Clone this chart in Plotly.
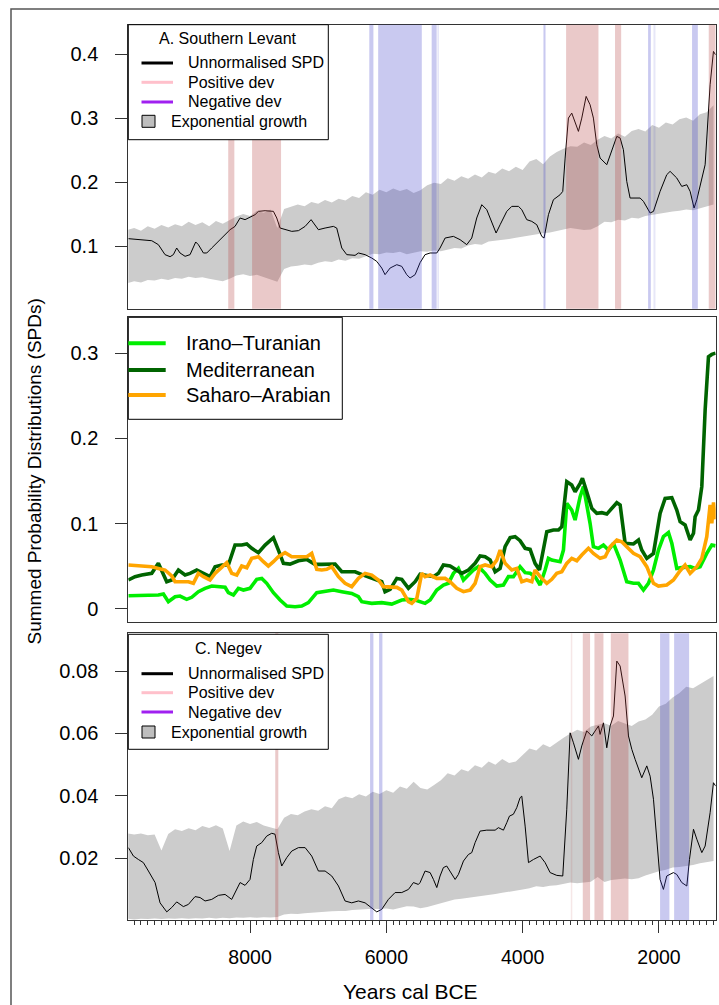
import plotly.graph_objects as go

# ---------------- DATA ----------------
# Panel A: Southern Levant, unnormalised SPD
A_spd_years = [9785, 9589, 9442, 9345, 9247, 9173, 9125, 9076, 9027, 8953, 8880, 8797, 8758, 8684, 8635,
               8562, 8464, 8366, 8293, 8220, 8146, 8073, 8000, 7926, 7877, 7779, 7657, 7608, 7559, 7486,
               7388, 7290, 7192, 7104, 7046, 6997, 6899, 6777, 6728, 6654, 6581, 6459, 6410, 6312, 6214,
               6141, 6068, 6019, 5945, 5847, 5774, 5701, 5652, 5578, 5505, 5432, 5358, 5260, 5212, 5138,
               5016, 4918, 4820, 4747, 4674, 4600, 4527, 4453, 4390, 4331, 4233, 4160, 4062, 4013, 3940,
               3866, 3793, 3720, 3686, 3622, 3549, 3451, 3412, 3377, 3329, 3280, 3231, 3182, 3133, 3069,
               3011, 2962, 2913, 2864, 2766, 2693, 2619, 2570, 2522, 2473, 2424, 2277, 2228, 2130, 2081,
               1984, 1886, 1837, 1739, 1666, 1592, 1543, 1485, 1445, 1397, 1323, 1250, 1201, 1170]
A_spd_vals = [.1115, .1099, .1083, .1021, .0865, .0833, .0865, .0969, .0891, .0839, .0865, .1063, .1021, .0891, .0891,
              .0969, .1073, .1177, .1255, .1307, .1438, .1412, .1448, .1490, .1542, .1552, .1542, .1438, .1281, .1255,
              .1229, .1240, .1307, .1412, .1333, .1255, .1281, .1307, .1281, .0969, .0865, .0854, .0891, .0865, .0812,
              .0760, .0656, .0552, .0656, .0708, .0682, .0552, .0500, .0552, .0740, .0865, .0891, .0891, .0969, .1125,
              .1151, .1099, .1021, .1125, .1438, .1646, .1568, .1360, .1203, .1333, .1542, .1620, .1620, .1568, .1412,
              .1385, .1333, .1151, .1125, .1490, .1724, .1802, .1854, .2375, .3000, .3078, .2948, .2792, .3000, .3339,
              .3208, .3000, .2583, .2375, .2271, .2479, .2714, .2688, .2505, .2010, .1750, .1750, .1698, .1516, .1542,
              .1854, .2115, .2167, .2063, .1932, .1958, .1854, .1594, .1724, .1932, .2271, .3521, .4042, .3990]

# Exponential growth envelope grid (years cal BCE)
ENV_years = [9800, 9700, 9600, 9500, 9400, 9300, 9200, 9100, 9000,
             8900, 8800, 8700, 8600, 8500, 8400, 8300, 8200, 8100, 8000,
             7900, 7800, 7700, 7600, 7500, 7400, 7300, 7200, 7100, 7000,
             6900, 6800, 6700, 6600, 6500, 6400, 6300, 6200, 6100, 6000,
             5900, 5800, 5700, 5600, 5500, 5400, 5300, 5200, 5100, 5000,
             4900, 4800, 4700, 4600, 4500, 4400, 4300, 4200, 4100, 4000,
             3900, 3800, 3700, 3600, 3500, 3400, 3300, 3200, 3100, 3000,
             2900, 2800, 2700, 2600, 2500, 2400, 2300, 2200, 2100, 2000,
             1900, 1800, 1700, 1600, 1500, 1400, 1300, 1200]
A_env_hi = [.125, .128, .124, .131, .127, .133, .129, .134, .131,
            .138, .133, .137, .131, .139, .135, .141, .146, .150, .147,
            .155, .152, .157, .128, .158, .161, .165, .162, .169, .166,
            .172, .168, .174, .171, .178, .175, .184, .180, .188, .184,
            .190, .186, .189, .183, .187, .195, .199, .197, .206, .202,
            .209, .205, .212, .207, .216, .213, .221, .217, .224, .219,
            .232, .236, .228, .240, .247, .252, .256, .255, .262, .258,
            .266, .272, .268, .276, .271, .280, .283, .279, .289, .285,
            .293, .290, .298, .301, .296, .306, .309, .320]
A_env_lo = [.042, .045, .043, .047, .046, .049, .047, .050, .049,
            .052, .050, .051, .049, .047, .045, .049, .054, .056, .053,
            .055, .051, .047, .044, .064, .068, .069, .071, .070, .074,
            .076, .075, .079, .077, .081, .080, .084, .088, .087, .090,
            .089, .091, .087, .090, .092, .091, .093, .092, .095, .097,
            .096, .101, .103, .102, .107, .108, .110, .111, .113, .115,
            .116, .118, .120, .121, .124, .126, .128, .127, .125, .126,
            .131, .138, .137, .141, .140, .144, .143, .147, .149, .150,
            .153, .154, .155, .157, .156, .159, .161, .165]
# deviation windows (start, end) in years cal BCE
A_pos_dev = [(8320, 8230), (7970, 7545), (3363, 2888), (2645, 2555), (1270, 1168)]
A_neg_dev = [(6250, 6190), (6120, 5480), (5335, 5262), (3695, 3665), (2160, 2120), (1515, 1430)]
A_neg_faint = [(5252, 5228), (2081, 2052)]

# Panel B: ecozone SPDs
IT_years = [9785, 9589, 9345, 9271, 9198, 9100, 9027, 8929, 8855, 8758, 8660, 8562, 8464, 8366, 8318,
            8244, 8171, 8097, 8000, 7902, 7828, 7755, 7657, 7559, 7461, 7339, 7241, 7144, 7021, 6899,
            6777, 6654, 6508, 6410, 6361, 6214, 6068, 5921, 5774, 5676, 5578, 5432, 5358, 5260, 5163,
            5089, 5016, 4943, 4869, 4796, 4722, 4649, 4551, 4478, 4380, 4282, 4209, 4136, 4038, 3964,
            3891, 3818, 3744, 3671, 3622, 3573, 3451, 3402, 3353, 3280, 3231, 3157, 3108, 3011, 2962,
            2888, 2815, 2742, 2668, 2570, 2473, 2375, 2301, 2228, 2155, 2081, 2008, 1935, 1861, 1812,
            1739, 1641, 1543, 1470, 1397, 1299, 1225, 1170]
IT_vals = [.0156, .0156, .0164, .0176, .0086, .0144, .0152, .0113, .0137, .0203, .0242, .0269, .0262, .0254, .0191,
           .0164, .0242, .0222, .0242, .0348, .0359, .0301, .0191, .0105, .0035, .0027, .0035, .0074, .0191, .0203,
           .0222, .0203, .0183, .0144, .0086, .0066, .0074, .0058, .0105, .0113, .0105, .0066, .0105, .0222, .0281,
           .0301, .0418, .0476, .0340, .0398, .0457, .0496, .0418, .0340, .0269, .0281, .0379, .0379, .0496, .0426,
           .0418, .0379, .0281, .0457, .0594, .0574, .0555, .0691, .1239, .1160, .1043, .1317, .1434, .1004, .0730,
           .0711, .0750, .0691, .0770, .0574, .0320, .0301, .0301, .0222, .0301, .0457, .0691, .0848, .0895, .0770,
           .0476, .0488, .0496, .0476, .0496, .0652, .0750, .0740]

MED_years = [9785, 9687, 9589, 9442, 9345, 9296, 9222, 9149, 9051, 8953, 8880, 8782, 8684, 8587, 8513,
             8415, 8318, 8220, 8122, 8048, 7975, 7877, 7779, 7657, 7584, 7510, 7413, 7290, 7168, 7046,
             6948, 6850, 6752, 6654, 6557, 6459, 6337, 6190, 6068, 6019, 5945, 5847, 5774, 5676, 5578,
             5505, 5407, 5309, 5236, 5163, 5065, 4967, 4894, 4796, 4698, 4625, 4551, 4478, 4404, 4331,
             4258, 4184, 4111, 4038, 3964, 3891, 3818, 3754, 3695, 3646, 3549, 3475, 3426, 3353, 3280,
             3231, 3157, 3123, 3060, 2986, 2913, 2839, 2766, 2693, 2619, 2570, 2497, 2375, 2301, 2253,
             2179, 2081, 1984, 1910, 1812, 1739, 1690, 1617, 1543, 1494, 1470, 1421, 1372, 1323, 1274,
             1225, 1170]
MED_vals = [.0340, .0379, .0398, .0418, .0535, .0457, .0320, .0340, .0457, .0398, .0418, .0457, .0418, .0379, .0496,
            .0516, .0516, .0750, .0750, .0762, .0711, .0660, .0750, .0836, .0691, .0535, .0527, .0566, .0582, .0523,
            .0523, .0527, .0527, .0437, .0437, .0437, .0398, .0359, .0320, .0203, .0230, .0359, .0348, .0242, .0320,
            .0408, .0398, .0379, .0418, .0516, .0504, .0457, .0418, .0457, .0535, .0621, .0613, .0574, .0437, .0476,
            .0730, .0836, .0848, .0801, .0711, .0699, .0535, .0457, .0691, .0906, .0926, .0926, .0965, .1492, .1453,
            .1375, .1473, .1532, .1375, .1180, .1121, .1129, .1113, .1180, .1246, .1219, .0770, .0762, .0809, .0691,
            .0594, .0652, .1121, .1297, .1305, .1160, .1024, .0985, .0809, .0887, .1082, .1160, .1434, .2333, .2958,
            .2985, .3000]

SA_years = [9785, 9589, 9442, 9345, 9247, 9149, 9100, 9002, 8904, 8831, 8758, 8684, 8587, 8513, 8415,
            8342, 8269, 8195, 8122, 8048, 7975, 7877, 7804, 7731, 7657, 7584, 7486, 7388, 7290, 7168,
            7095, 7021, 6948, 6875, 6801, 6703, 6606, 6508, 6410, 6312, 6214, 6117, 6043, 5970, 5847,
            5774, 5676, 5627, 5553, 5481, 5432, 5358, 5260, 5138, 5065, 4967, 4869, 4771, 4698, 4625,
            4551, 4453, 4380, 4331, 4258, 4160, 4087, 4013, 3940, 3866, 3818, 3744, 3646, 3573, 3500,
            3426, 3353, 3280, 3206, 3133, 3035, 2962, 2864, 2790, 2717, 2619, 2546, 2473, 2375, 2277,
            2179, 2081, 2008, 1886, 1788, 1690, 1617, 1543, 1445, 1372, 1299, 1250, 1225, 1200, 1175]
SA_vals = [.0516, .0504, .0496, .0476, .0457, .0387, .0320, .0320, .0320, .0301, .0418, .0379, .0340, .0418, .0496,
           .0543, .0418, .0398, .0504, .0484, .0594, .0613, .0555, .0504, .0555, .0613, .0660, .0613, .0613, .0613,
           .0652, .0465, .0457, .0465, .0496, .0379, .0301, .0262, .0359, .0418, .0398, .0340, .0262, .0262, .0254,
           .0222, .0086, .0066, .0125, .0418, .0379, .0398, .0359, .0359, .0320, .0242, .0203, .0222, .0301, .0496,
           .0516, .0496, .0574, .0691, .0535, .0457, .0476, .0320, .0340, .0320, .0457, .0379, .0301, .0348, .0418,
           .0437, .0535, .0594, .0566, .0633, .0711, .0652, .0594, .0613, .0730, .0809, .0789, .0730, .0652, .0613,
           .0496, .0301, .0269, .0281, .0340, .0449, .0516, .0418, .0496, .0594, .0848, .1219, .1004, .1250, .1050]

# Panel C: Negev
C_spd_years = [9785, 9711, 9638, 9565, 9491, 9393, 9320, 9222, 9149, 9076, 8978, 8904, 8807, 8733, 8660,
               8562, 8464, 8366, 8269, 8195, 8146, 8073, 8000, 7951, 7902, 7828, 7755, 7682, 7633, 7584,
               7535, 7461, 7388, 7290, 7192, 7095, 6997, 6899, 6801, 6703, 6606, 6508, 6410, 6312, 6214,
               6141, 6068, 5970, 5872, 5774, 5676, 5603, 5530, 5505, 5432, 5358, 5309, 5260, 5212, 5163,
               5114, 5040, 4991, 4943, 4869, 4796, 4747, 4698, 4625, 4527, 4404, 4356, 4282, 4233, 4194,
               4136, 4087, 4038, 4013, 3964, 3915, 3842, 3744, 3671, 3597, 3500, 3412, 3353, 3304, 3255,
               3182, 3133, 3060, 2986, 2937, 2888, 2864, 2815, 2766, 2717, 2668, 2619, 2570, 2497, 2448,
               2399, 2350, 2301, 2253, 2179, 2130, 2081, 2032, 1984, 1935, 1886, 1788, 1739, 1666, 1592,
               1553, 1494, 1445, 1372, 1323, 1250, 1201, 1167]
C_spd_vals = [.0234, .0207, .0196, .0186, .0159, .0122, .0057, .0028, .0042, .0060, .0045, .0052, .0077, .0074, .0063,
              .0068, .0081, .0084, .0068, .0100, .0122, .0113, .0132, .0196, .0239, .0250, .0271, .0280, .0277, .0218,
              .0175, .0202, .0223, .0234, .0234, .0207, .0159, .0159, .0143, .0111, .0063, .0057, .0063, .0057, .0042,
              .0028, .0036, .0068, .0090, .0090, .0100, .0122, .0116, .0122, .0159, .0154, .0132, .0106, .0143, .0170,
              .0175, .0148, .0132, .0148, .0191, .0212, .0218, .0250, .0287, .0290, .0290, .0298, .0290, .0314, .0335,
              .0341, .0362, .0394, .0399, .0303, .0186, .0196, .0207, .0186, .0154, .0145, .0143, .0357, .0602, .0570,
              .0517, .0560, .0608, .0592, .0608, .0624, .0597, .0634, .0554, .0624, .0656, .0832, .0816, .0720, .0592,
              .0549, .0517, .0485, .0458, .0496, .0463, .0389, .0250, .0132, .0100, .0143, .0154, .0148, .0122, .0111,
              .0196, .0293, .0261, .0218, .0239, .0346, .0442, .0431]
C_env_hi = [.0280, .0276, .0279, .0274, .0276, .0225, .0278, .0293, .0287,
            .0296, .0290, .0303, .0297, .0306, .0295, .0223, .0305, .0318, .0310,
            .0316, .0305, .0300, .0293, .0330, .0342, .0338, .0350, .0357, .0352,
            .0367, .0360, .0389, .0398, .0392, .0405, .0398, .0413, .0406, .0418,
            .0410, .0430, .0423, .0445, .0425, .0420, .0435, .0450, .0472, .0465,
            .0485, .0478, .0498, .0490, .0510, .0500, .0518, .0505, .0510, .0530,
            .0552, .0545, .0565, .0556, .0572, .0586, .0600, .0612, .0605, .0622,
            .0628, .0633, .0625, .0640, .0632, .0624, .0638, .0645, .0660, .0686,
            .0695, .0715, .0730, .0750, .0745, .0758, .0772, .0784]
C_env_lo = [.0006, .0004, .0006, .0005, .0007, .0005, .0007, .0006, .0008,
            .0006, .0008, .0007, .0009, .0007, .0009, .0008, .0010, .0009, .0011,
            .0009, .0011, .0010, .0012, .0020, .0022, .0021, .0024, .0026, .0027,
            .0028, .0030, .0031, .0031, .0034, .0036, .0036, .0038, .0037, .0039,
            .0036, .0042, .0046, .0045, .0040, .0044, .0050, .0057, .0062, .0068,
            .0070, .0073, .0076, .0078, .0080, .0085, .0089, .0092, .0097, .0100,
            .0104, .0110, .0108, .0112, .0113, .0118, .0122, .0120, .0123, .0125,
            .0140, .0124, .0130, .0132, .0135, .0133, .0136, .0145, .0152, .0158,
            .0163, .0170, .0172, .0175, .0178, .0184, .0187, .0191]
C_pos_dev = [(7630, 7585), (3118, 3011), (2947, 2815), (2707, 2448)]
C_pos_faint = [(3294, 3272)]
C_neg_dev = [(6239, 6190), (6107, 6058), (1984, 1847), (1778, 1558)]

# axis ticks
A_ticks = [0.1, 0.2, 0.3, 0.4]
B_ticks = [0, 0.1, 0.2, 0.3]
B_ticktext = ["0", "0.1", "0.2", "0.3"]
C_ticks = [0.02, 0.04, 0.06, 0.08]
X_ticks = [8000, 6000, 4000, 2000]

# ---------------- LAYOUT GEOMETRY (pixels) ----------------
W, H = 719, 1005
PL, PR = 128.3, 715.7
A_T, A_B = 24.7, 308.7
B_T, B_B = 317.3, 622.3
C_T, C_B = 633.3, 920.0


def fx(px):
    return px / W


def fy(py):
    return 1 - py / H


X_RANGE = [9786, 1168]
GRAY = "rgb(204,204,204)"
POS = "rgba(180,60,60,0.28)"
POS_FAINT = "rgba(180,60,60,0.12)"
NEG = "rgba(60,60,200,0.28)"
NEG_FAINT = "rgba(60,60,200,0.12)"
FONT = "Liberation Sans, Arial, Helvetica, sans-serif"

fig = go.Figure()


def add_env(xa, ya, lo, hi):
    fig.add_trace(go.Scatter(x=ENV_years, y=lo, mode="lines", line=dict(width=0, color=GRAY),
                             xaxis=xa, yaxis=ya, showlegend=False, hoverinfo="skip"))
    fig.add_trace(go.Scatter(x=ENV_years, y=hi, mode="lines", line=dict(width=0, color=GRAY),
                             fill="tonexty", fillcolor=GRAY, xaxis=xa, yaxis=ya,
                             showlegend=False, hoverinfo="skip"))


add_env("x", "y", A_env_lo, A_env_hi)
fig.add_trace(go.Scatter(x=A_spd_years, y=A_spd_vals, mode="lines", line=dict(color="black", width=1),
                         xaxis="x", yaxis="y", showlegend=False))

for yrs, vals, col in [(IT_years, IT_vals, "#00EE00"), (MED_years, MED_vals, "#006400"),
                       (SA_years, SA_vals, "#FFA500")]:
    fig.add_trace(go.Scatter(x=yrs, y=vals, mode="lines", line=dict(color=col, width=3.6),
                             xaxis="x2", yaxis="y2", showlegend=False))

add_env("x3", "y3", C_env_lo, C_env_hi)
fig.add_trace(go.Scatter(x=C_spd_years, y=C_spd_vals, mode="lines", line=dict(color="black", width=1),
                         xaxis="x3", yaxis="y3", showlegend=False))

shapes = []


def band(xref, yref, x0, x1, color):
    shapes.append(dict(type="rect", xref=xref, yref=yref + " domain", x0=x0, x1=x1, y0=0, y1=1,
                       fillcolor=color, line=dict(width=0), layer="above"))


for a, b in A_pos_dev:
    band("x", "y", a, b, POS)
for a, b in A_neg_dev:
    band("x", "y", a, b, NEG)
for a, b in A_neg_faint:
    band("x", "y", a, b, NEG_FAINT)
for a, b in C_pos_dev:
    band("x3", "y3", a, b, POS)
for a, b in C_pos_faint:
    band("x3", "y3", a, b, POS_FAINT)
for a, b in C_neg_dev:
    band("x3", "y3", a, b, NEG)

annotations = []


def prect(x0, y0, x1, y1, fill="white", lw=1, lc="black"):
    shapes.append(dict(type="rect", xref="paper", yref="paper", x0=fx(x0), x1=fx(x1), y0=fy(y1), y1=fy(y0),
                       fillcolor=fill, line=dict(color=lc, width=lw), layer="above"))


def pline(x0, x1, y, color, width):
    shapes.append(dict(type="line", xref="paper", yref="paper", x0=fx(x0), x1=fx(x1), y0=fy(y), y1=fy(y),
                       line=dict(color=color, width=width), layer="above"))


def ptext(x, y, text, size, anchor="left", angle=0):
    annotations.append(dict(xref="paper", yref="paper", x=fx(x), y=fy(y), text=text, showarrow=False,
                            xanchor=anchor, yanchor="middle", textangle=angle,
                            font=dict(family=FONT, size=size, color="black")))


def spd_legend(top, title, rows_y, title_y):
    prect(PL, top, 328.3, top + 115)
    ptext(228, title_y, title, 16, "center")
    pline(141.5, 173, rows_y[0], "black", 3)
    ptext(185.5, rows_y[0], "Unnormalised SPD", 16)
    pline(141.5, 173, rows_y[1], "pink", 3)
    ptext(185.5, rows_y[1], "Positive dev", 16)
    pline(141.5, 173, rows_y[2], "#A020F0", 3)
    ptext(185.5, rows_y[2], "Negative dev", 16)
    prect(142, rows_y[3] - 6, 155, rows_y[3] + 6, fill="rgb(190,190,190)", lw=1)
    ptext(168.5, rows_y[3], "Exponential growth", 16)


spd_legend(A_T, "A. Southern Levant", [63, 82.3, 102, 121.3], 38.7)
spd_legend(C_T + 1, "C. Negev", [673.7, 692.7, 712, 732], 648.7)

# panel B legend
prect(PL, B_T, 342.3, 419.3)
for yy, col, name in [(343.3, "#00EE00", "Irano\u2013Turanian"), (370, "#006400", "Mediterranean"),
                      (395, "#FFA500", "Saharo\u2013Arabian")]:
    pline(PL, 165.7, yy, col, 4)
    ptext(183.5, yy, name, 20)

# outer frame
shapes.append(dict(type="rect", xref="paper", yref="paper", x0=fx(11), x1=1.02, y0=-0.02, y1=fy(9),
                   fillcolor="rgba(0,0,0,0)", line=dict(color="#555", width=1.5), layer="above"))

ptext(33.5, 472, "Summed Probability Distributions (SPDs)", 19, "center", -90)
ptext(410, 991, "Years cal BCE", 21, "center")

axis_common = dict(showline=True, linecolor="#333", linewidth=1, mirror=True, showgrid=False,
                   zeroline=False, automargin=False)
xdom = [fx(PL), fx(PR)]

ycommon = dict(ticks="outside", ticklen=12, tickwidth=1, tickcolor="#333",
               tickfont=dict(family=FONT, size=20, color="black"), ticklabelstandoff=13, **axis_common)

fig.update_layout(
    width=W, height=H, margin=dict(l=0, r=0, t=0, b=0), template="none",
    paper_bgcolor="white", plot_bgcolor="white", showlegend=False,
    font=dict(family=FONT, color="black"),
    xaxis=dict(domain=xdom, range=X_RANGE, anchor="y", showticklabels=False, ticks="", **axis_common),
    xaxis2=dict(domain=xdom, range=X_RANGE, anchor="y2", showticklabels=False, ticks="", **axis_common),
    xaxis3=dict(domain=xdom, range=X_RANGE, anchor="y3", tickmode="array", tickvals=X_ticks,
                ticktext=[str(v) for v in X_ticks], ticks="outside", ticklen=12, tickwidth=1, tickcolor="#333",
                tickfont=dict(family=FONT, size=19.5, color="black"), ticklabelstandoff=8,
                minor=dict(ticks="outside", ticklen=4, dtick=100, tick0=0, tickcolor="#333", tickwidth=1),
                **axis_common),
    yaxis=dict(domain=[fy(A_B), fy(A_T)], range=[0.002, 0.446], anchor="x", tickmode="array",
               tickvals=A_ticks, ticktext=[str(v) for v in A_ticks], **ycommon),
    yaxis2=dict(domain=[fy(B_B), fy(B_T)], range=[-0.0156, 0.342], anchor="x2", tickmode="array",
                tickvals=B_ticks, ticktext=B_ticktext, **ycommon),
    yaxis3=dict(domain=[fy(C_B), fy(C_T)], range=[0.0002, 0.0921], anchor="x3", tickmode="array",
                tickvals=C_ticks, ticktext=[str(v) for v in C_ticks], **ycommon),
    shapes=shapes, annotations=annotations,
)

fig.write_html("out.html", config={"displayModeBar": False},
               post_script="document.body.style.margin='0px';document.body.style.overflow='hidden';")
